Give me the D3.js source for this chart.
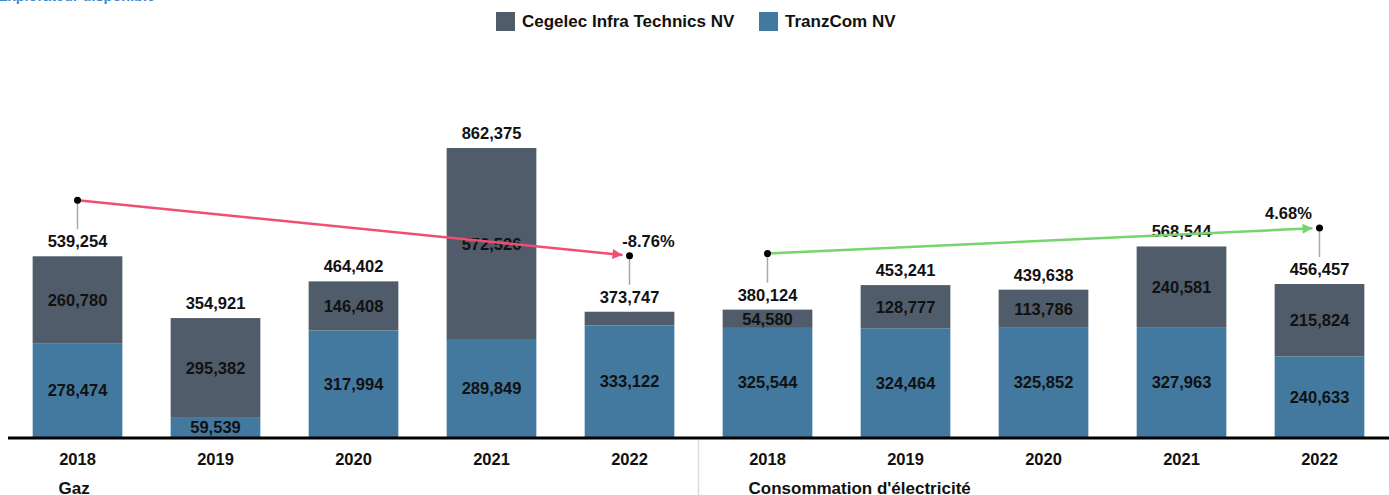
<!DOCTYPE html>
<html>
<head>
<meta charset="utf-8">
<script src="https://cdnjs.cloudflare.com/ajax/libs/d3/7.8.5/d3.min.js"></script>
<style>
  html, body { margin: 0; padding: 0; background: #fff; }
  svg { display: block; font-family: "Liberation Sans", Arial, sans-serif; }
</style>
</head>
<body>
<div id="chart"></div>
<script>
// Stacked bars by group, with CAGR arrows
const groups = ['Gaz', "Consommation d'électricité"];
const years = ['2018', '2019', '2020', '2021', '2022'];
const seriesNames = ['Cegelec Infra Technics NV', 'TranzCom NV'];
const cegelecGaz = [260780, 295382, 146408, 572526, 40625];
const tranzcomGaz = [278474, 59539, 317994, 289849, 333122];
const cegelecElec = [54580, 128777, 113786, 240581, 215824];
const tranzcomElec = [325544, 324464, 325852, 327963, 240633];

const colors = { cegelec: '#505c6a', tranzcom: '#43799f' };
const arrowColors = ['#f04f74', '#78d46c'];

const width = 1389, height = 495;
const baseY = 437, topY = 148;

// flatten into rows used by the scales
const rows = [];
groups.forEach((g, gi) => {
  const ceg = gi === 0 ? cegelecGaz : cegelecElec;
  const tra = gi === 0 ? tranzcomGaz : tranzcomElec;
  years.forEach((yr, i) => {
    rows.push({ key: g + '|' + yr, group: g, gi, year: yr, tranzcom: tra[i], cegelec: ceg[i], total: tra[i] + ceg[i] });
  });
});

const svg = d3.select('#chart').append('svg')
  .attr('width', width)
  .attr('height', height);

const x = d3.scaleBand()
  .domain(rows.map(d => d.key))
  .range([8.5, 1388.5])
  .paddingInner(0.35)
  .paddingOuter(0.175);

const y = d3.scaleLinear()
  .domain([0, d3.max(rows, d => d.total)])
  .range([baseY, topY]);

const fmt = d3.format(',');
const pct = d3.formatLocale({ decimal: '.', thousands: ',', grouping: [3], currency: ['', ''], minus: '-' }).format('.2%');

// Top-left link text (cut off at the top edge)
svg.append('text')
  .attr('x', -2)
  .attr('y', 1)
  .attr('fill', '#3a89cc')
  .style('font-size', '14.5px')
  .style('font-weight', 'bold')
  .text('Explorateur disponible');

// Legend
const legend = svg.append('g').attr('class', 'legend');
const legendItems = [
  { name: seriesNames[0], color: colors.cegelec, x: 496 },
  { name: seriesNames[1], color: colors.tranzcom, x: 759 }
];
legendItems.forEach(item => {
  legend.append('rect')
    .attr('x', item.x).attr('y', 12)
    .attr('width', 19).attr('height', 19)
    .attr('fill', item.color);
  legend.append('text')
    .attr('x', item.x + 26).attr('y', 27)
    .attr('fill', '#111')
    .style('font-size', '17px')
    .style('font-weight', 'bold')
    .text(item.name);
});

// Bars
const bars = svg.append('g').attr('class', 'bars')
  .selectAll('g')
  .data(rows)
  .join('g');

bars.append('rect')
  .attr('x', d => x(d.key))
  .attr('width', x.bandwidth())
  .attr('y', d => y(d.tranzcom))
  .attr('height', d => baseY - y(d.tranzcom))
  .attr('fill', colors.tranzcom);

bars.append('rect')
  .attr('x', d => x(d.key))
  .attr('width', x.bandwidth())
  .attr('y', d => y(d.total))
  .attr('height', d => y(d.tranzcom) - y(d.total))
  .attr('fill', colors.cegelec);

const labelStyle = sel => sel
  .attr('text-anchor', 'middle')
  .attr('fill', '#111')
  .style('font-size', '16.5px')
  .style('font-weight', 'bold');

// segment labels
bars.append('text')
  .call(labelStyle)
  .attr('x', d => x(d.key) + x.bandwidth() / 2)
  .attr('y', d => (y(d.tranzcom) + baseY) / 2)
  .attr('dominant-baseline', 'central')
  .text(d => fmt(d.tranzcom));

bars.filter(d => y(d.tranzcom) - y(d.total) >= 16)
  .append('text')
  .call(labelStyle)
  .attr('x', d => x(d.key) + x.bandwidth() / 2)
  .attr('y', d => (y(d.total) + y(d.tranzcom)) / 2)
  .attr('dominant-baseline', 'central')
  .text(d => fmt(d.cegelec));

// totals
bars.append('text')
  .call(labelStyle)
  .attr('x', d => x(d.key) + x.bandwidth() / 2)
  .attr('y', d => y(d.total) - 9)
  .text(d => fmt(d.total));

// Axis line
svg.append('line')
  .attr('x1', 8).attr('x2', width)
  .attr('y1', baseY + 1).attr('y2', baseY + 1)
  .attr('stroke', '#000')
  .attr('stroke-width', 3);

// Group separator
svg.append('line')
  .attr('x1', x(rows[5].key) - x.step() * x.paddingInner() / 2)
  .attr('x2', x(rows[5].key) - x.step() * x.paddingInner() / 2)
  .attr('y1', baseY + 3).attr('y2', height)
  .attr('stroke', '#dcdcdc')
  .attr('stroke-width', 1.5);

// Year labels
svg.append('g').selectAll('text')
  .data(rows)
  .join('text')
  .call(labelStyle)
  .attr('x', d => x(d.key) + x.bandwidth() / 2)
  .attr('y', 465)
  .text(d => d.year);

// Group labels
svg.append('g').selectAll('text')
  .data(groups)
  .join('text')
  .attr('x', (g, gi) => x(g + '|' + years[0]) + x.bandwidth() / 2 - 19)
  .attr('y', 494)
  .attr('fill', '#111')
  .style('font-size', '17px')
  .style('font-weight', 'bold')
  .text(g => g);

// CAGR arrows
const defs = svg.append('defs');
groups.forEach((g, gi) => {
  const first = rows.find(d => d.key === g + '|' + years[0]);
  const last = rows.find(d => d.key === g + '|' + years[years.length - 1]);
  const cagr = Math.pow(last.total / first.total, 1 / (years.length - 1)) - 1;
  const p1 = { x: x(first.key) + x.bandwidth() / 2, y: y(first.total) - 56 };
  const p2 = { x: x(last.key) + x.bandwidth() / 2, y: y(last.total) - 56 };
  const color = arrowColors[gi];

  defs.append('marker')
    .attr('id', 'arrow' + gi)
    .attr('viewBox', '0 0 10 10')
    .attr('refX', 10).attr('refY', 5)
    .attr('markerUnits', 'userSpaceOnUse')
    .attr('markerWidth', 11).attr('markerHeight', 10)
    .attr('orient', 'auto')
    .append('path')
    .attr('d', 'M0,0 L10,5 L0,10 Z')
    .attr('fill', color);

  const arrow = svg.append('g').attr('class', 'cagr');

  [first, last].forEach((d, i) => {
    const p = i === 0 ? p1 : p2;
    arrow.append('line')
      .attr('x1', p.x).attr('x2', p.x)
      .attr('y1', p.y).attr('y2', y(d.total) - 27)
      .attr('stroke', '#a8a8a8')
      .attr('stroke-width', 1.5);
  });

  const len = Math.hypot(p2.x - p1.x, p2.y - p1.y);
  const shrink = 7 / len;
  arrow.append('line')
    .attr('x1', p1.x).attr('y1', p1.y)
    .attr('x2', p2.x - (p2.x - p1.x) * shrink)
    .attr('y2', p2.y - (p2.y - p1.y) * shrink)
    .attr('stroke', color)
    .attr('stroke-width', 2.5)
    .attr('marker-end', 'url(#arrow' + gi + ')');

  [p1, p2].forEach(p => {
    arrow.append('circle')
      .attr('cx', p.x).attr('cy', p.y)
      .attr('r', 3.5)
      .attr('fill', '#000');
  });

  arrow.append('text')
    .call(labelStyle)
    .attr('x', p2.x + (gi === 0 ? 19 : -31))
    .attr('y', p2.y - 9)
    .text(pct(cagr));
});
</script>
</body>
</html>
